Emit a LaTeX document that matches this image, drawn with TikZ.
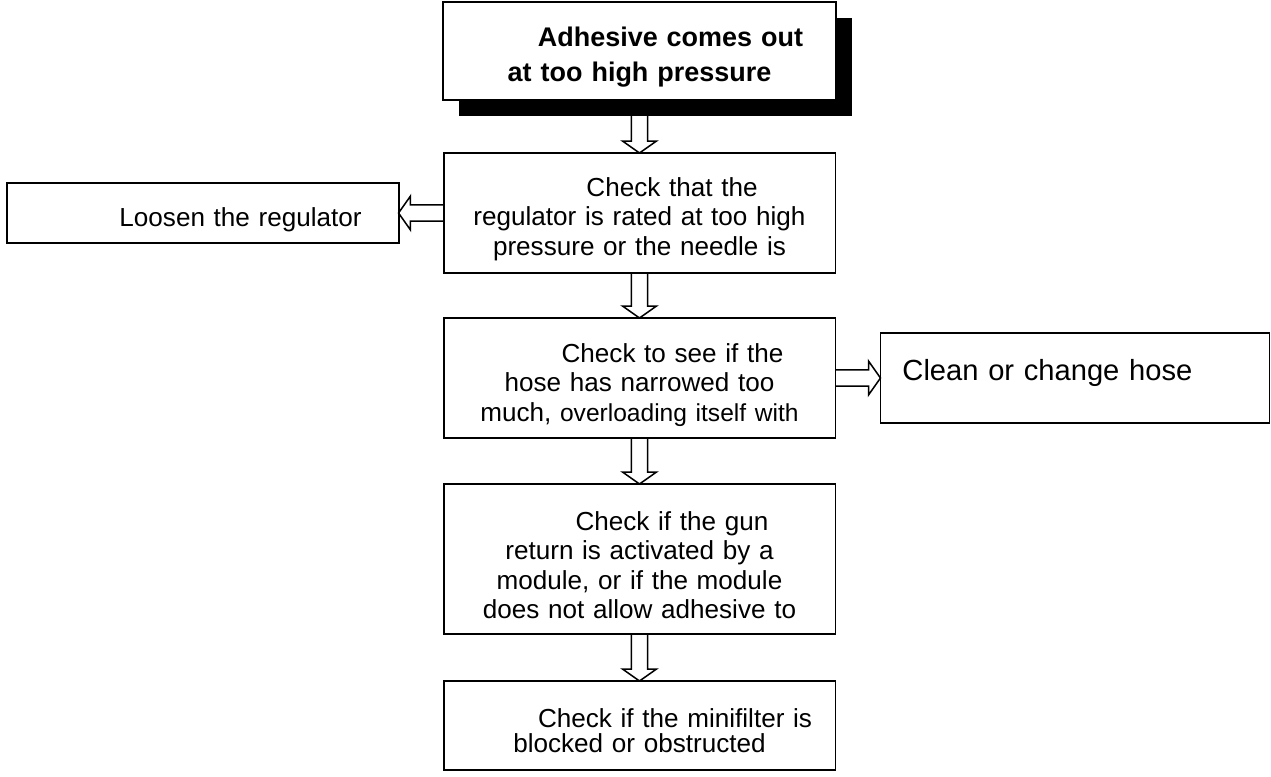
\documentclass[tikz,border=0pt]{standalone}
\usepackage{fontspec}
\setmainfont{Liberation Sans}
\usetikzlibrary{positioning, calc, shadows}

% hollow block arrow from #1 (tail) to #2 (tip)
\newcommand\hollowarrow[2]{%
  \coordinate (tail) at (#1);
  \coordinate (tip)  at (#2);
  \coordinate (neck) at ($(tip)!5.5pt!(tail)$);
  \draw[hollow] ($(tail)!3.7pt!90:(tip)$) -- ($(neck)!3.7pt!90:(tip)$)
    -- ($(neck)!7.8pt!90:(tip)$) -- (tip) -- ($(neck)!7.8pt!-90:(tip)$)
    -- ($(neck)!3.7pt!-90:(tip)$) -- ($(tail)!3.7pt!-90:(tip)$);}

\begin{document}
\begin{tikzpicture}[
            chartbox/.style={draw, line width=0.9pt, inner xsep=0pt, inner ysep=0pt,
                             outer sep=0pt, minimum width=180.3pt, text width=180.3pt,
                             align=center, text height=9.2pt,
                             font=\fontsize{12}{13.6}\selectfont},
            hollow/.style={line width=0.7pt, line join=miter}]

            \useasboundingbox (0,0) rectangle (584.66pt,-356.96pt);

            %% ── Nodes ─────────────────────────────────────────────────────
            \node[chartbox, minimum width=180.8pt, text width=180.8pt,
                  minimum height=45.08pt, text depth=13.8pt,
                  font=\fontsize{12.4}{16.1}\selectfont\bfseries,
                  drop shadow={shadow xshift=7.36pt, shadow yshift=-7.36pt,
                               opacity=1, fill=black}, fill=white]
                  at (294.17pt,-23.46pt)            (trouble)
                  {\hspace*{28.5pt}Adhesive comes out\\at too high pressure};
            \node[chartbox, below=24.38pt of trouble, minimum height=55.2pt,
                  text depth=24.84pt]                (regcheck)
                  {\hspace*{29.9pt}Check that the\\regulator is rated at too high\\pressure or the needle is};
            \node[chartbox, left=20.7pt of regcheck, minimum height=27.6pt,
                  text height=18.4pt, text depth=6.44pt] (loosen)
                  {\hspace*{35pt}Loosen the regulator};
            \node[chartbox, below=20.7pt of regcheck, minimum height=55.2pt,
                  text depth=23.92pt]                (hosecheck)
                  {\hspace*{30.4pt}Check to see if the\\hose has narrowed too\\much,
                   {\fontsize{11.3}{13.6}\selectfont overloading itself with}};
            \node[chartbox, right=20.7pt of hosecheck, minimum width=178.9pt,
                  text width=158.7pt, inner xsep=10.12pt, align=left,
                  minimum height=41.4pt, text depth=7.36pt,
                  font=\fontsize{13.4}{16}\selectfont] (hose)
                  {Clean or change hose};
            \node[chartbox, below=21.16pt of hosecheck, minimum height=69pt,
                  text depth=35.88pt]                (guncheck)
                  {\hspace*{29.9pt}Check if the gun\\return is activated by a\\module, or if the module\\does not allow adhesive to};
            \node[chartbox, below=21.62pt of guncheck, minimum height=40.94pt,
                  text depth=7.82pt, font=\fontsize{12}{11.5}\selectfont] (filtercheck)
                  {\hspace*{32.7pt}Check if the minifilter is\\blocked or obstructed};

            %% ── Arrows ────────────────────────────────────────────────────
            \hollowarrow{trouble.south}{regcheck.north}
            \hollowarrow{regcheck.west}{loosen.east}
            \hollowarrow{regcheck.south}{hosecheck.north}
            \hollowarrow{hosecheck.east}{hose.west}
            \hollowarrow{hosecheck.south}{guncheck.north}
            \hollowarrow{guncheck.south}{filtercheck.north}

\end{tikzpicture}
\end{document}
